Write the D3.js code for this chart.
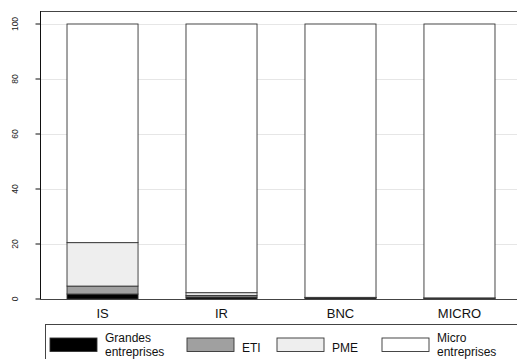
<!DOCTYPE html>
<html>
<head>
<meta charset="utf-8">
<script src="https://cdn.jsdelivr.net/npm/d3@7"></script>
<style>
  body { margin: 0; background: #fff; }
  svg, svg text { font-family: "Liberation Sans", Arial, sans-serif; }
</style>
</head>
<body>
<div id="graph"></div>
<script>
// categories and series (share of each company size, %)
var categories = ["IS", "IR", "BNC", "MICRO"];
var seriesNames = ["Grandes entreprises", "ETI", "PME", "Micro entreprises"];
var grandes = [1.8, 0.7, 0.4, 0.3];
var eti     = [2.9, 0.6, 0.1, 0.05];
var pme     = [15.8, 1.0, 0.1, 0.05];
var micro   = [79.5, 97.7, 99.4, 99.6];
var yTicks  = [0, 20, 40, 60, 80, 100];

var colors = ["#000000", "#a0a0a0", "#eeeeee", "#ffffff"];
var legendLines = [["Grandes", "entreprises"], ["ETI"], ["PME"], ["Micro", "entreprises"]];

var graphWidth = 517, graphHeight = 359;
var fontFam = "'Liberation Sans', Arial, sans-serif";

var rows = categories.map(function(c, i) {
  return {cat: c, g: grandes[i], e: eti[i], p: pme[i], m: micro[i]};
});
var stack = d3.stack().keys(["g", "e", "p", "m"]);
var layers = stack(rows);

var x = d3.scaleBand()
    .domain(categories)
    .range([40, 522])
    .paddingInner(0.403)
    .paddingOuter(0.227);

var y = d3.scaleLinear()
    .domain([0, 100])
    .range([299, 24]);

var svg = d3.select("#graph")
    .append("svg")
    .attr("width", graphWidth)
    .attr("height", graphHeight);

// grid lines
svg.append("g")
  .selectAll("line")
  .data(yTicks.filter(function(d) { return d > 0; }))
  .enter().append("line")
    .attr("x1", 40).attr("x2", graphWidth)
    .attr("y1", function(d) { return y(d) + 0.5; })
    .attr("y2", function(d) { return y(d) + 0.5; })
    .attr("stroke", "#e6e6e6")
    .attr("stroke-width", 1);

// bars
svg.append("g")
  .selectAll("g")
  .data(layers)
  .enter().append("g")
    .attr("fill", function(d, i) { return colors[i]; })
  .selectAll("rect")
  .data(function(d) { return d; })
  .enter().append("rect")
    .attr("x", function(d) { return x(d.data.cat); })
    .attr("width", x.bandwidth())
    .attr("y", function(d) { return y(d[1]); })
    .attr("height", function(d) { return y(d[0]) - y(d[1]); })
    .attr("stroke", "#333")
    .attr("stroke-width", 0.9);

// frame: top
svg.append("line")
  .attr("x1", 40).attr("x2", graphWidth)
  .attr("y1", 11.5).attr("y2", 11.5)
  .attr("stroke", "#444").attr("stroke-width", 1);

// y axis
var yAxis = d3.axisLeft(y)
    .tickValues(yTicks)
    .tickSize(5)
    .tickPadding(0)
    .tickFormat(d3.format("d"));

var yAxisArea = svg.append("g")
    .attr("transform", "translate(40.5,0)")
    .attr("font-family", fontFam)
    .call(yAxis);
yAxisArea.select(".domain").attr("d", "M0,11V299").attr("stroke", "#111");
yAxisArea.selectAll(".tick").attr("transform", null);
yAxisArea.selectAll(".tick line")
    .attr("stroke", "#111")
    .attr("y1", function(d) { return y(d); })
    .attr("y2", function(d) { return y(d); });
yAxisArea.selectAll("text")
    .attr("x", -22.5)
    .attr("y", function(d) { return y(d); })
    .attr("dy", 0)
    .attr("transform", function(d) { return "rotate(-90," + (-22.5) + "," + y(d) + ")"; })
    .style("text-anchor", "middle")
    .style("font-size", "8.5px")
    .attr("fill", "#222");

// x axis
var xAxis = d3.axisBottom(x).tickSize(0).tickPadding(0);
var xAxisArea = svg.append("g")
    .attr("transform", "translate(0,299.5)")
    .attr("font-family", fontFam)
    .call(xAxis);
xAxisArea.select(".domain").attr("d", "M40,0H" + graphWidth).attr("stroke", "#444");
xAxisArea.selectAll("text")
    .attr("y", 18)
    .attr("dy", 0)
    .style("font-size", "13px")
    .attr("fill", "#111");

// legend
var legend = svg.append("g");
legend.append("rect")
    .attr("x", 45.5).attr("y", 324.5)
    .attr("width", 500).attr("height", 60)
    .attr("fill", "#fff")
    .attr("stroke", "#444").attr("stroke-width", 1);

var keyX = [50, 187, 277, 382];
var items = legend.selectAll("g.item")
  .data(seriesNames)
  .enter().append("g")
    .attr("class", "item")
    .attr("transform", function(d, i) { return "translate(" + keyX[i] + ",338)"; });

items.append("rect")
    .attr("width", 47).attr("height", 13.5)
    .attr("fill", function(d, i) { return colors[i]; })
    .attr("stroke", "#333").attr("stroke-width", 0.9);

items.append("text")
    .attr("x", 55)
    .style("font-size", "12px")
    .style("font-family", fontFam)
    .attr("fill", "#111")
    .each(function(d, i) {
      var lines = legendLines[i];
      var t = d3.select(this);
      lines.forEach(function(l, j) {
        t.append("tspan")
          .attr("x", 55)
          .attr("y", lines.length === 1 ? 13.5 : (j === 0 ? 4 : 17.6))
          .text(l);
      });
    });
</script>
</body>
</html>
